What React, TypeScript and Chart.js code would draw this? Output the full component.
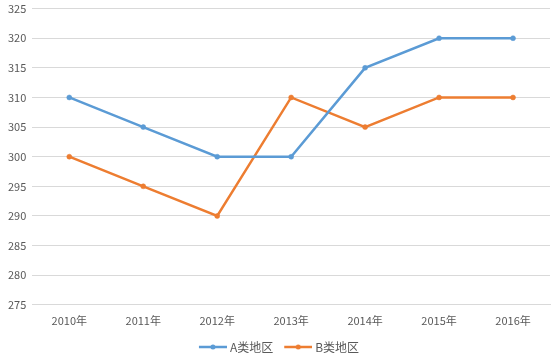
import React, { useEffect, useRef } from "react";
import { Chart, registerables } from "chart.js";

Chart.register(...registerables);

const categories = ["2010年", "2011年", "2012年", "2013年", "2014年", "2015年", "2016年"];
const seriesA = [310, 305, 300, 300, 315, 320, 320];
const seriesB = [300, 295, 290, 310, 305, 310, 310];
const seriesNames = ["A类地区", "B类地区"];
const colors = ["#5B9BD5", "#ED7D31"];

function makeLegendIcon(color: string) {
  const c = document.createElement("canvas");
  c.width = 37;
  c.height = 8;
  const ctx = c.getContext("2d")!;
  ctx.strokeStyle = color;
  ctx.lineWidth = 2.5;
  ctx.beginPath();
  ctx.moveTo(9, 4);
  ctx.lineTo(37, 4);
  ctx.stroke();
  ctx.fillStyle = color;
  ctx.beginPath();
  ctx.arc(23, 4, 2.5, 0, Math.PI * 2);
  ctx.fill();
  return c;
}

const CANVAS_H = 367;
const SHIFT = 4;

export default function App() {
  const ref = useRef<HTMLCanvasElement>(null);
  useEffect(() => {
    const font = "'Noto Sans CJK SC', 'DejaVu Sans', sans-serif";
    const icons = colors.map(makeLegendIcon);
    const chart = new Chart(ref.current!, {
      type: "line",
      data: {
        labels: categories,
        datasets: [seriesA, seriesB].map((d, i) => ({
          label: seriesNames[i],
          data: d,
          borderColor: colors[i],
          backgroundColor: colors[i],
          borderWidth: 2.5,
          pointRadius: 2.5,
          pointBorderWidth: 0.5,
          pointHoverRadius: 2.5,
          pointStyle: "circle",
          tension: 0,
        })),
      },
      options: {
        animation: false,
        responsive: false,
        maintainAspectRatio: false,
        layout: { padding: { left: 2, right: 10, top: 0, bottom: 0 } },
        plugins: {
          tooltip: { enabled: false },
          legend: {
            position: "bottom",
            labels: {
              usePointStyle: true,
              pointStyleWidth: 31,
              color: "#595959",
              font: { family: font, size: 12 },
              padding: 5,
              generateLabels: (ch: any) =>
                ch.data.datasets.map((ds: any, i: number) => ({
                  text: ds.label,
                  pointStyle: icons[i],
                  fillStyle: colors[i],
                  strokeStyle: colors[i],
                  lineWidth: 0,
                  hidden: false,
                  datasetIndex: i,
                  fontColor: "#595959",
                })),
            },
          },
        },
        scales: {
          x: {
            offset: true,
            grid: { display: false, drawTicks: false },
            border: { display: true, color: "#d9d9d9" },
            ticks: { color: "#595959", font: { family: font, size: 11 }, padding: 9 },
          },
          y: {
            min: 275,
            max: 325,
            ticks: { stepSize: 5, color: "#595959", font: { family: font, size: 11 }, padding: 6 },
            grid: { color: "#d9d9d9", drawTicks: false },
            border: { display: false },
          },
        },
      },
    });
    return () => chart.destroy();
  }, []);
  return (
    <div style={{ position: "absolute", left: 0, top: 0, width: 560, height: 356, overflow: "hidden", background: "#fff" }}>
      <canvas
        ref={ref}
        width={560}
        height={CANVAS_H}
        style={{ position: "absolute", left: 0, top: -SHIFT, width: 560, height: CANVAS_H }}
      />
    </div>
  );
}
